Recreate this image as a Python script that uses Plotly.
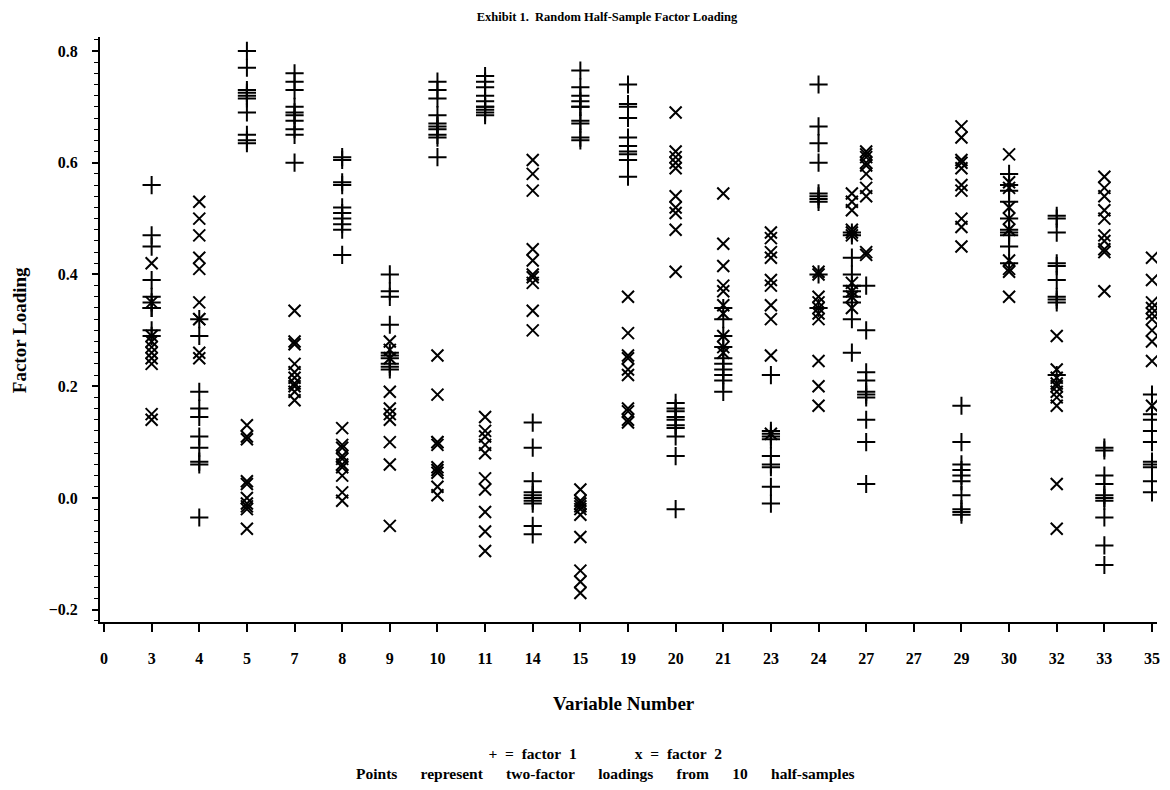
import plotly.graph_objects as go

# Tick labels along the x axis (one per tick index 0..22)
tick_labels = ["0", "3", "4", "5", "7", "8", "9", "10", "11", "14", "15", "19",
               "20", "21", "23", "24", "27", "27", "29", "30", "32", "33", "35"]

# Position (in tick-index units) of each plotted variable column
col_pos = [1, 2, 3, 4, 5, 6, 7, 8, 9, 10, 11, 12, 13, 14, 15, 15.7, 16, 18, 19, 20, 21, 22]

# Factor 1 loadings (+), 10 half-samples per column
factor1 = [
    [0.56, 0.47, 0.45, 0.39, 0.36, 0.35, 0.34, 0.34, 0.30, 0.29],
    [0.32, 0.29, 0.19, 0.16, 0.145, 0.11, 0.09, 0.065, 0.06, -0.035],
    [0.80, 0.77, 0.73, 0.725, 0.72, 0.715, 0.69, 0.65, 0.64, 0.635],
    [0.76, 0.745, 0.73, 0.70, 0.69, 0.685, 0.675, 0.66, 0.65, 0.60],
    [0.61, 0.605, 0.565, 0.56, 0.52, 0.51, 0.50, 0.49, 0.48, 0.435],
    [0.40, 0.37, 0.36, 0.31, 0.26, 0.255, 0.25, 0.24, 0.235, 0.23],
    [0.745, 0.73, 0.715, 0.685, 0.67, 0.665, 0.66, 0.65, 0.645, 0.61],
    [0.755, 0.745, 0.735, 0.72, 0.71, 0.70, 0.70, 0.695, 0.69, 0.685],
    [0.135, 0.09, 0.03, 0.01, 0.005, 0.0, -0.005, -0.01, -0.05, -0.065],
    [0.765, 0.735, 0.72, 0.71, 0.70, 0.70, 0.675, 0.67, 0.645, 0.64],
    [0.74, 0.705, 0.70, 0.68, 0.645, 0.63, 0.62, 0.615, 0.605, 0.575],
    [0.17, 0.16, 0.155, 0.145, 0.14, 0.13, 0.125, 0.11, 0.075, -0.02],
    [0.34, 0.32, 0.29, 0.27, 0.25, 0.24, 0.23, 0.22, 0.21, 0.19],
    [0.22, 0.12, 0.115, 0.11, 0.105, 0.075, 0.06, 0.055, 0.02, -0.01],
    [0.74, 0.665, 0.635, 0.60, 0.545, 0.54, 0.535, 0.53, 0.40, 0.34],
    [0.475, 0.47, 0.43, 0.40, 0.38, 0.37, 0.36, 0.35, 0.32, 0.26],
    [0.38, 0.30, 0.225, 0.21, 0.19, 0.185, 0.18, 0.14, 0.10, 0.025],
    [0.165, 0.10, 0.06, 0.05, 0.04, 0.03, 0.005, -0.02, -0.025, -0.03],
    [0.58, 0.56, 0.55, 0.53, 0.50, 0.48, 0.475, 0.47, 0.45, 0.42],
    [0.505, 0.50, 0.475, 0.42, 0.415, 0.39, 0.36, 0.355, 0.35, 0.22],
    [0.09, 0.085, 0.04, 0.025, 0.005, 0.0, -0.005, -0.035, -0.085, -0.12],
    [0.185, 0.15, 0.14, 0.12, 0.10, 0.065, 0.06, 0.055, 0.03, 0.01],
]

# Factor 2 loadings (x), 10 half-samples per column
factor2 = [
    [0.42, 0.35, 0.29, 0.28, 0.27, 0.26, 0.25, 0.24, 0.15, 0.14],
    [0.53, 0.50, 0.47, 0.43, 0.41, 0.35, 0.32, 0.32, 0.26, 0.25],
    [0.13, 0.11, 0.105, 0.03, 0.025, 0.0, -0.01, -0.015, -0.02, -0.055],
    [0.335, 0.28, 0.275, 0.24, 0.225, 0.215, 0.205, 0.20, 0.19, 0.175],
    [0.125, 0.095, 0.09, 0.075, 0.07, 0.06, 0.055, 0.04, 0.01, -0.005],
    [0.28, 0.265, 0.25, 0.19, 0.16, 0.15, 0.14, 0.10, 0.06, -0.05],
    [0.255, 0.185, 0.10, 0.10, 0.095, 0.055, 0.05, 0.045, 0.02, 0.005],
    [0.145, 0.12, 0.11, 0.095, 0.08, 0.035, 0.015, -0.025, -0.06, -0.095],
    [0.605, 0.58, 0.55, 0.445, 0.425, 0.40, 0.395, 0.385, 0.335, 0.30],
    [0.015, -0.005, -0.01, -0.015, -0.02, -0.03, -0.07, -0.13, -0.15, -0.17],
    [0.36, 0.295, 0.255, 0.25, 0.23, 0.22, 0.16, 0.155, 0.14, 0.135],
    [0.69, 0.62, 0.61, 0.60, 0.59, 0.54, 0.52, 0.51, 0.48, 0.405],
    [0.545, 0.455, 0.415, 0.38, 0.37, 0.345, 0.33, 0.29, 0.27, 0.26],
    [0.475, 0.465, 0.44, 0.43, 0.39, 0.38, 0.345, 0.32, 0.255, 0.115],
    [0.405, 0.40, 0.36, 0.35, 0.34, 0.33, 0.32, 0.245, 0.20, 0.165],
    [0.545, 0.53, 0.515, 0.48, 0.475, 0.47, 0.385, 0.37, 0.36, 0.34],
    [0.62, 0.615, 0.61, 0.60, 0.595, 0.58, 0.555, 0.54, 0.44, 0.435],
    [0.665, 0.645, 0.605, 0.60, 0.59, 0.56, 0.55, 0.50, 0.485, 0.45],
    [0.615, 0.565, 0.555, 0.52, 0.50, 0.48, 0.425, 0.41, 0.405, 0.36],
    [0.29, 0.23, 0.215, 0.205, 0.20, 0.19, 0.18, 0.165, 0.025, -0.055],
    [0.575, 0.555, 0.54, 0.515, 0.50, 0.47, 0.46, 0.445, 0.44, 0.37],
    [0.43, 0.39, 0.35, 0.34, 0.33, 0.32, 0.30, 0.28, 0.245, 0.165],
]

def flatten(groups):
    xs, ys = [], []
    for pos, vals in zip(col_pos, groups):
        for v in vals:
            xs.append(pos)
            ys.append(v)
    return xs, ys

x1, y1 = flatten(factor1)
x2, y2 = flatten(factor2)

FONT = "Liberation Serif"
NB = "\u00a0"

# The page body has an 8px margin; size the figure so it fits the 1170x790 window.
W, H = 1154, 774
OFF = 8

def px(page_x):   # page pixel -> paper x (plot area spans page x 100..1160)
    return (page_x - 100) / 1060

def py(page_y):   # page pixel -> paper y (plot area spans page y 37..622)
    return (622 - page_y) / 585

fig = go.Figure()
fig.add_trace(go.Scatter(
    x=x1, y=y1, mode="markers", name="factor 1",
    marker=dict(symbol="cross-thin", size=13, line=dict(width=2, color="black"), color="black"),
))
fig.add_trace(go.Scatter(
    x=x2, y=y2, mode="markers", name="factor 2",
    marker=dict(symbol="x-thin", size=12, line=dict(width=2, color="black"), color="black"),
))

fig.update_layout(
    width=W, height=H,
    margin=dict(l=100 - OFF, r=W - (1160 - OFF), t=37 - OFF, b=H - (622 - OFF)),
    paper_bgcolor="white", plot_bgcolor="white",
    showlegend=False,
    font=dict(family=FONT, color="black"),
    title=dict(text="<b>Exhibit 1.  Random Half-Sample Factor Loading</b>",
               x=(607 - OFF) / W, xanchor="center", y=1 - 8.5 / H, yanchor="middle",
               font=dict(family=FONT, size=12.5, color="black")),
)

fig.update_xaxes(
    range=[-0.084, 22.105],
    tickmode="array", tickvals=list(range(len(tick_labels))), ticktext=tick_labels,
    showline=True, linewidth=2, linecolor="black", mirror=False,
    ticks="outside", ticklen=8, tickwidth=2, tickcolor="black",
    ticklabelstandoff=13, ticklabeloverflow="allow",
    tickfont=dict(family=FONT, size=16, color="black", weight="bold"),
    showgrid=False, zeroline=False,
)
fig.update_yaxes(
    range=[-0.222, 0.825],
    tickmode="linear", tick0=0, dtick=0.2, tickformat=".1f",
    showline=True, linewidth=2, linecolor="black",
    ticks="outside", ticklen=6, tickwidth=2, tickcolor="black",
    ticklabelstandoff=11,
    minor=dict(dtick=0.02, tick0=0, ticks="outside", ticklen=4, tickwidth=1, tickcolor="black"),
    tickfont=dict(family=FONT, size=16, color="black", weight="bold"),
    showgrid=False, zeroline=False,
)

fig.add_annotation(text="Factor Loading", textangle=-90, xref="paper", yref="paper",
                   x=px(19), y=py(330), xanchor="center", yanchor="middle",
                   showarrow=False, font=dict(family=FONT, size=19, color="black", weight="bold"))
fig.add_annotation(text="Variable Number", xref="paper", yref="paper",
                   x=px(625), y=py(703), xanchor="center", yanchor="middle",
                   showarrow=False, font=dict(family=FONT, size=19, color="black", weight="bold"))

line1 = f"+{NB}{NB}={NB}{NB}factor{NB}{NB}1" + NB * 15 + f"x{NB}{NB}={NB}{NB}factor{NB}{NB}2"
line2 = (NB * 6).join(["Points", "represent", "two-factor", "loadings", "from", "10", "half-samples"])
fig.add_annotation(text=line1 + "<br>" + line2, xref="paper", yref="paper",
                   x=px(607), y=py(763), xanchor="center", yanchor="middle", align="center",
                   showarrow=False, font=dict(family=FONT, size=15.5, color="black", weight="bold"))

fig.write_html("out.html")
